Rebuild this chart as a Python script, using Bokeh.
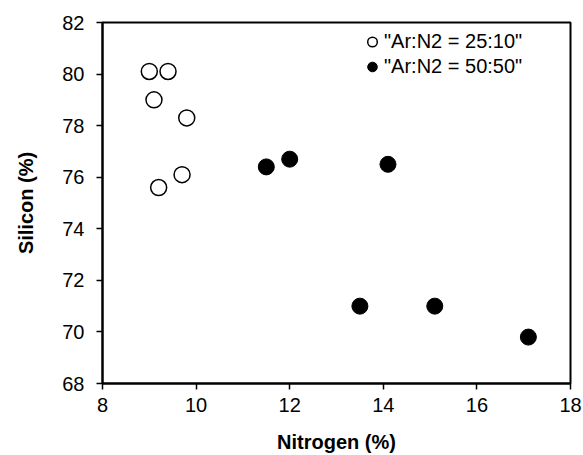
from bokeh.plotting import figure
from bokeh.models import Range1d, FixedTicker, Legend, LegendItem
from bokeh.embed import file_html
from bokeh.resources import INLINE

# Data
n_25_10 = [9.0, 9.4, 9.1, 9.8, 9.7, 9.2]
si_25_10 = [80.1, 80.1, 79.0, 78.3, 76.1, 75.6]
n_50_50 = [11.5, 12.0, 14.1, 13.5, 15.1, 17.1]
si_50_50 = [76.4, 76.7, 76.5, 71.0, 71.0, 69.8]
x_ticks = [8, 10, 12, 14, 16, 18]
y_ticks = [68, 70, 72, 74, 76, 78, 80, 82]
labels = ['"Ar:N2 = 25:10"', '"Ar:N2 = 50:50"']

FONT = "Liberation Sans"

p = figure(width=583, height=455, output_backend="svg", toolbar_location=None,
           x_range=Range1d(8, 18), y_range=Range1d(68, 82),
           min_border_left=102, min_border_right=13, min_border_top=22, min_border_bottom=70)
p.background_fill_color = "white"
p.border_fill_color = "white"
p.outline_line_color = "black"
p.outline_line_width = 2
p.grid.visible = False

for ax in (p.xaxis[0], p.yaxis[0]):
    ax.axis_line_width = 2
    ax.axis_line_color = "black"
    ax.major_tick_line_width = 1.5
    ax.major_tick_line_color = "black"
    ax.major_tick_in = 0
    ax.major_tick_out = 6
    ax.minor_tick_line_color = None
    ax.major_label_text_font = FONT
    ax.major_label_text_font_size = "20px"
    ax.major_label_text_color = "black"
    ax.axis_label_text_font = FONT
    ax.axis_label_text_font_size = "20px"
    ax.axis_label_text_font_style = "bold"
    ax.axis_label_text_color = "black"

p.xaxis[0].ticker = FixedTicker(ticks=x_ticks)
p.yaxis[0].ticker = FixedTicker(ticks=y_ticks)
p.xaxis[0].axis_label = "Nitrogen (%)"
p.yaxis[0].axis_label = "Silicon (%)"
p.xaxis[0].major_label_standoff = 8
p.yaxis[0].major_label_standoff = 12
p.xaxis[0].axis_label_standoff = 16
p.yaxis[0].axis_label_standoff = 22

r1 = p.scatter(n_25_10, si_25_10, marker="circle", size=16, fill_color="white",
               line_color="black", line_width=1.5)
r2 = p.scatter(n_50_50, si_50_50, marker="circle", size=16, fill_color="black",
               line_color="black", line_width=1)

legend = Legend(items=[LegendItem(label=labels[0], renderers=[r1]),
                       LegendItem(label=labels[1], renderers=[r2])],
                location=(258, 304), padding=0, margin=0, spacing=0,
                glyph_width=24, glyph_height=25, label_height=25, label_standoff=0,
                label_text_font=FONT, label_text_font_size="20px",
                label_text_color="black", border_line_color=None,
                background_fill_alpha=0)
p.add_layout(legend)

open("out.html", "w").write(file_html(p, INLINE))
